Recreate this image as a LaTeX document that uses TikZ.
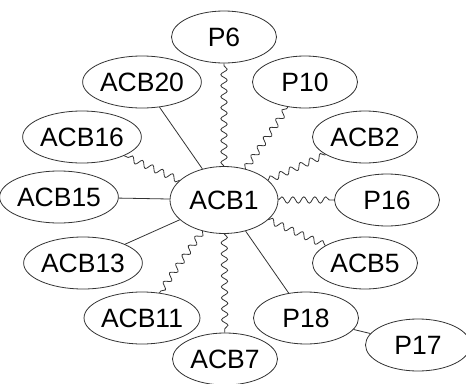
\documentclass[tikz,border=0pt]{standalone}
\usepackage{fontspec}
\setmainfont{Liberation Sans}
\usetikzlibrary{shapes.geometric,decorations.pathmorphing}
\begin{document}
\begin{tikzpicture}[x=1pt,y=-1pt,
  nd/.style={ellipse,draw=black!80,line width=0.8pt,inner sep=0pt,minimum width=105pt,minimum height=52pt,font=\fontsize{26.5}{26.5}\selectfont},
  hub/.style={nd,minimum width=108pt,minimum height=67pt},
  link/.style={draw=black!80,line width=0.8pt},
  wavy/.style={link,decorate,decoration={snake,amplitude=3.2pt,segment length=11pt}}]
\useasboundingbox (0,0) rectangle (466,383);
\node[nd] (P6) at (224,37) {P6};
\node[nd] (ACB20) at (142,82) {ACB20};
\node[nd] (P10) at (305,82) {P10};
\node[nd] (ACB16) at (82,137) {ACB16};
\node[nd] (ACB2) at (365,137) {ACB2};
\node[nd] (ACB15) at (59,197) {ACB15};
\node[hub] (ACB1) at (224,200) {ACB1};
\node[nd] (P16) at (387,200) {P16};
\node[nd] (ACB13) at (83,263) {ACB13};
\node[nd] (ACB5) at (365,263) {ACB5};
\node[nd] (ACB11) at (142,318) {ACB11};
\node[nd] (P18) at (306,318) {P18};
\node[nd] (ACB7) at (225,359) {ACB7};
\node[nd] (P17) at (418,345) {P17};
\draw[wavy] (ACB1) -- (P6);
\draw[link] (ACB1) -- (ACB20);
\draw[wavy] (ACB1) -- (P10);
\draw[wavy] (ACB1) -- (ACB16);
\draw[wavy] (ACB1) -- (ACB2);
\draw[link] (ACB1) -- (ACB15);
\draw[wavy] (ACB1) -- (P16);
\draw[link] (ACB1) -- (ACB13);
\draw[wavy] (ACB1) -- (ACB5);
\draw[wavy] (ACB1) -- (ACB11);
\draw[wavy] (ACB1) -- (ACB7);
\draw[link] (ACB1) -- (P18);
\draw[link] (P18) -- (P17);
\end{tikzpicture}
\end{document}
